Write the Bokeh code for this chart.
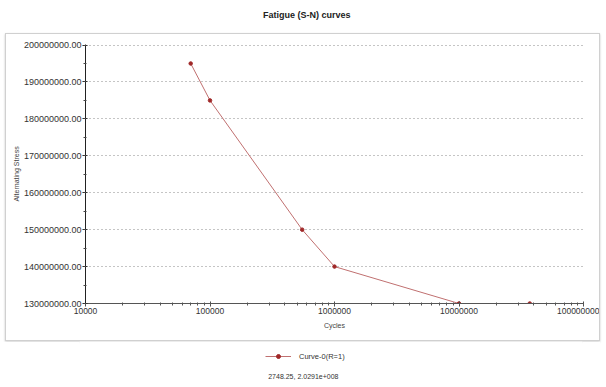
from bokeh.plotting import figure
from bokeh.layouts import column
from bokeh.models import (PrintfTickFormatter, SingleIntervalTicker, LogTicker,
                          Legend, LegendItem, Range1d, Label)
from bokeh.embed import file_html
from bokeh.resources import INLINE

# Data
cycles = [70000, 100000, 550000, 1000000, 10000000, 37000000]
stress = [195000000, 185000000, 150000000, 140000000, 130000000, 130000000]
series_name = "Curve-0(R=1)"
title_text = "Fatigue (S-N) curves"
x_title = "Cycles"
y_title = "Alternating Stress"
status_text = "2748.25, 2.0291e+008"

FONT = "Liberation Sans"
LINE_COLOR = "#c07070"
MARK_COLOR = "#a02828"


def blank(height):
    f = figure(width=600, height=height, output_backend="svg", toolbar_location=None,
               x_range=Range1d(0, 600), y_range=Range1d(0, height),
               x_axis_location=None, y_axis_location=None, title=None,
               min_border=0, min_border_left=0, min_border_right=0,
               min_border_top=0, min_border_bottom=0)
    f.grid.visible = False
    f.outline_line_color = None
    return f


# ---- title strip
p0 = blank(33)
p0.add_layout(Label(x=271, y=19, text=title_text,
                    text_align="center", text_baseline="middle", text_font=FONT,
                    text_font_size="9px", text_font_style="bold", text_color="#222222"))

# ---- main chart
p = figure(frame_width=496, frame_height=257, output_backend="svg", toolbar_location=None,
           x_axis_type="log", x_range=Range1d(1e4, 1e8), y_range=Range1d(130e6, 200.15e6),
           min_border_left=79, min_border_right=18, min_border_top=10, min_border_bottom=39,
           margin=(0, 0, 0, 5),
           styles={"border": "1px solid #d0d0d0", "box-shadow": "0 1px 2px #c8c8c8"})
p.outline_line_color = None
p.background_fill_color = "white"
p.border_fill_color = "white"

p.xaxis.ticker = LogTicker(num_minor_ticks=10)
p.xaxis.formatter = PrintfTickFormatter(format="%d")
p.yaxis.ticker = SingleIntervalTicker(interval=10e6, num_minor_ticks=2)
p.yaxis.formatter = PrintfTickFormatter(format="%.2f")
for ax in (p.xaxis[0], p.yaxis[0]):
    ax.major_label_text_font = FONT
    ax.major_label_text_font_size = "8.5px"
    ax.major_label_text_color = "#333333"
    ax.major_tick_in = 2
    ax.major_tick_out = 3
    ax.minor_tick_in = 1
    ax.minor_tick_out = 2
    ax.major_label_standoff = 1
    ax.axis_label_text_font = FONT
    ax.axis_label_text_font_size = "7px"
    ax.axis_label_text_font_style = "normal"
    ax.axis_label_text_color = "#444444"
p.yaxis.major_label_text_font_size = "9px"
p.xaxis.axis_label = x_title
p.yaxis.axis_label = y_title
p.xaxis.axis_label_standoff = 5
p.yaxis.axis_label_standoff = 1
p.yaxis.axis_line_color = "#222222"
p.yaxis.major_tick_line_color = "#222222"
p.yaxis.minor_tick_line_color = "#444444"
p.xaxis.axis_line_color = "#555555"
p.xaxis.major_tick_line_color = "#444444"
p.xaxis.minor_tick_line_color = "#555555"

p.xgrid.grid_line_color = None
p.ygrid.grid_line_color = "#8a8a8a"
p.ygrid.grid_line_dash = "1 3"
p.ygrid.grid_line_width = 1

p.line(cycles, stress, line_color=LINE_COLOR, line_width=1)
p.scatter(cycles, stress, size=3.5, fill_color=MARK_COLOR, line_color=MARK_COLOR)

# ---- legend + status strip
p2 = blank(45)
lg_line = p2.line(x=[-50, -40], y=[-50, -50], line_color=LINE_COLOR, line_width=1)
lg_pts = p2.scatter(x=[-50], y=[-50], size=3.5, fill_color=MARK_COLOR, line_color=MARK_COLOR)
legend = Legend(items=[LegendItem(label=series_name, renderers=[lg_line, lg_pts])],
                location=(186, 25), orientation="horizontal",
                border_line_color=None, background_fill_alpha=0,
                label_text_font=FONT, label_text_font_size="7.5px",
                label_text_color="#333333", glyph_width=26, glyph_height=10,
                label_standoff=8, padding=2, margin=0, spacing=0)
p2.add_layout(legend, "center")
p2.add_layout(Label(x=267, y=10, text=status_text,
                    text_align="center", text_baseline="middle", text_font=FONT,
                    text_font_size="7px", text_color="#333333"))

layout = column(p0, p, p2, spacing=0)
open("out.html", "w").write(file_html(layout, INLINE))
